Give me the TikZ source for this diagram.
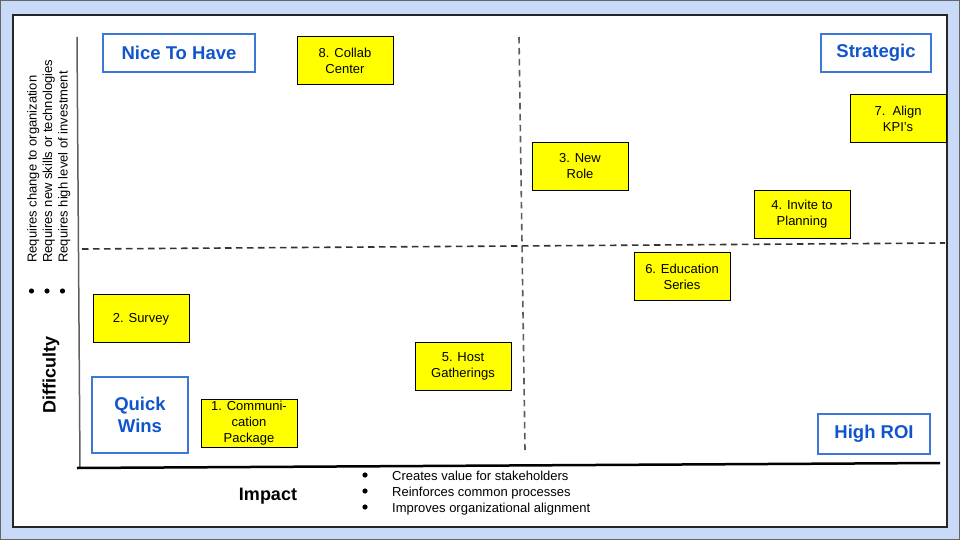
\documentclass[tikz,border=0pt]{standalone}
\usepackage{fontspec}
\setmainfont{Liberation Sans}
\definecolor{bgblue}{HTML}{C9DAF8}
\definecolor{labtext}{HTML}{1155CC}
\definecolor{labline}{HTML}{3C78D8}
\definecolor{stickyY}{HTML}{FFFF00}
\definecolor{dashc}{HTML}{333333}
\begin{document}
\begin{tikzpicture}[x=1pt,y=-1pt,
  sticky/.style={draw=black, line width=1pt, fill=stickyY, minimum width=96pt, minimum height=48pt,
    inner sep=1pt, align=center, font=\fontsize{13}{16}\selectfont},
  quad/.style={draw=labline, line width=2pt, fill=white, text=labtext, align=center,
    font=\fontsize{18.5}{22}\selectfont\bfseries, inner sep=0pt},
  divider/.style={dashc, line width=1.6pt, dash pattern=on 6.5pt off 4.5pt},
  axislab/.style={font=\fontsize{18}{22}\selectfont\bfseries, inner sep=0pt},
  bul/.style={fill=black, draw=none}
]
\useasboundingbox (0,0) rectangle (960,540);
\fill[bgblue] (0,0) rectangle (960,540);
\draw[gray!80!black, line width=1pt] (0.5,0.5) rectangle (959.5,539.5);
\draw[black!85, line width=2pt, fill=white] (13,15) rectangle (947,527);

% axes
\coordinate (yt) at (77,37);
\coordinate (yb) at (80,467);
\coordinate (xl) at (77,468);
\coordinate (xr) at (940,463);
\draw[gray!75!black, line width=1.5pt] (yt) -- (yb);
\draw[black, line width=2.5pt] (xl) -- (xr);

% dividers
\coordinate (hl) at (82,249);
\coordinate (hr) at (945,243);
\coordinate (vt) at (519,37);
\coordinate (vb) at (525,450);
\draw[divider] (hl) -- (hr);
\draw[divider, dashc!80] (vt) -- (vb);

% quadrant labels
\node[quad, minimum width=152pt, minimum height=38pt] (nice) at (179,53) {Nice To Have};
\node[quad, minimum width=110pt, minimum height=38pt] (strat) at (876,53) {Strategic};
\node[quad, minimum width=96pt, minimum height=76pt] (quick) at (140,415) {Quick\\Wins};
\node[quad, minimum width=112pt, minimum height=40pt] (roi) at (874,434) {High ROI};

% sticky notes
\node[sticky] (s8) at (345,60.5) {8. Collab\\Center};
\node[sticky] (s7) at (898,118.5) {7.\ \ Align\\KPI’s};
\node[sticky] (s3) at (580,166.5) {3. New\\Role};
\node[sticky] (s4) at (802,214.5) {4. Invite to\\Planning};
\node[sticky] (s6) at (682,276.5) {6. Education\\Series};
\node[sticky, text depth=0pt] (s2) at (141,318) {2. Survey};
\node[sticky] (s5) at (463,366.5) {5. Host\\Gatherings};
\node[sticky] (s1) at (249,423.5) {1. Communi-\\cation\\Package};

% axis labels
\node[axislab, rotate=90] (diff) at (51,375) {Difficulty};
\node[axislab] (imp) at (268,496) {Impact};

% difficulty criteria
\node[rotate=90, anchor=north west, inner sep=0pt, font=\fontsize{13}{15.5}\selectfont] (req) at (25.5,263)
  {\begin{tabular}{@{}l@{}}
   Requires change to organization\\
   Requires new skills or technologies\\
   Requires high level of investment
   \end{tabular}};
\fill[bul] (31.5,291) circle (2.6);
\fill[bul] (47,291) circle (2.6);
\fill[bul] (62.5,291) circle (2.6);

% impact criteria
\node[anchor=north west, inner sep=0pt, font=\fontsize{13}{16}\selectfont] (crit) at (392,469)
  {\begin{tabular}{@{}l@{}}
   Creates value for stakeholders\\
   Reinforces common processes\\
   Improves organizational alignment
   \end{tabular}};
\fill[bul] (365,475) circle (2.6);
\fill[bul] (365,491) circle (2.6);
\fill[bul] (365,507) circle (2.6);
\end{tikzpicture}
\end{document}
